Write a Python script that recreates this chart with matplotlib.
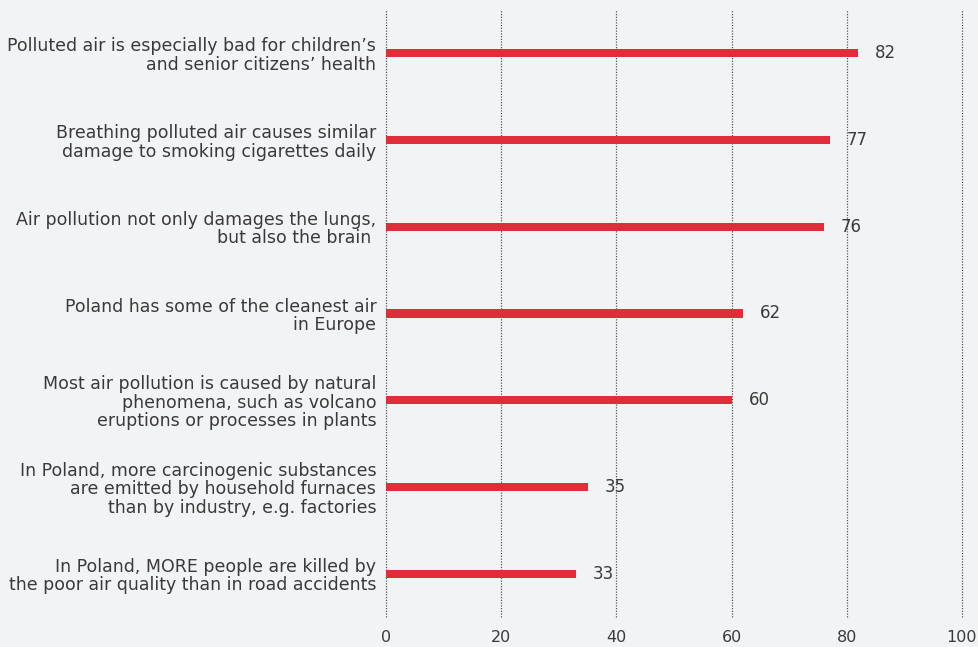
import matplotlib
matplotlib.use("Agg")
import matplotlib.pyplot as plt

categories = [
    "Polluted air is especially bad for children\u2019s\nand senior citizens\u2019 health",
    "Breathing polluted air causes similar\ndamage to smoking cigarettes daily",
    "Air pollution not only damages the lungs,\nbut also the brain ",
    "Poland has some of the cleanest air\nin Europe",
    "Most air pollution is caused by natural\nphenomena, such as volcano\neruptions or processes in plants",
    "In Poland, more carcinogenic substances\nare emitted by household furnaces\nthan by industry, e.g. factories",
    "In Poland, MORE people are killed by\nthe poor air quality than in road accidents",
]
values = [82, 77, 76, 62, 60, 35, 33]
xticks = [0, 20, 40, 60, 80, 100]

BG = "#f2f3f5"
RED = "#e02d3a"
TXT = "#3a3a3a"

plt.rcParams['font.family'] = ['DejaVu Sans']

fig = plt.figure(figsize=(9.79, 6.47), dpi=100, facecolor=BG)
ax = fig.add_axes([386/979, 30/647, 576/979, 607/647], facecolor=BG)

ypos = list(range(len(values)))
ax.barh(ypos, values, height=0.095, color=RED, zorder=3)
ax.set_xlim(0, 100)
ax.set_ylim(len(values) - 0.5, -0.5)

for x in xticks:
    ax.axvline(x, color="#555555", linestyle=(0, (1, 1.2)), linewidth=0.9,
               zorder=1, clip_on=False)

for y, v in zip(ypos, values):
    ax.annotate(str(v), xy=(v, y), xytext=(17, 0), textcoords="offset pixels",
                ha="left", va="center", fontsize=12, color=TXT)

ax.set_yticks(ypos)
ax.set_yticklabels(categories, fontsize=12.5, color=TXT, linespacing=1.05)
ax.tick_params(axis="y", length=0, pad=7)
ax.set_xticks(xticks)
ax.set_xticklabels([str(t) for t in xticks], fontsize=11.5, color=TXT)
ax.tick_params(axis="x", length=0, pad=9.5)
for s in ax.spines.values():
    s.set_visible(False)

fig.savefig("out.png", dpi=100, facecolor=BG)
